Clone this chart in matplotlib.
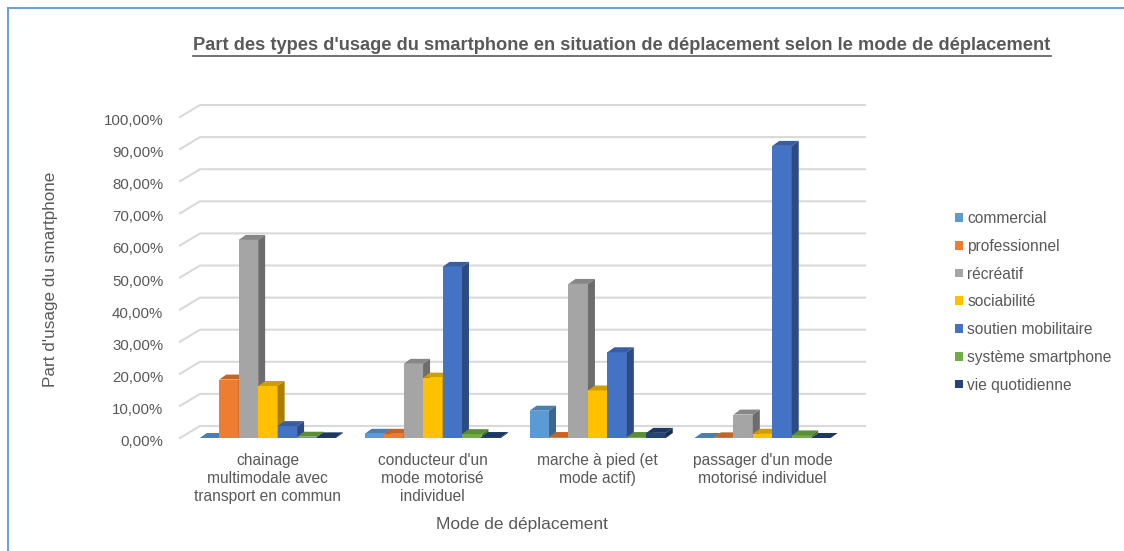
import matplotlib
matplotlib.use('Agg')
import matplotlib.pyplot as plt
from matplotlib.patches import Polygon, Patch
from matplotlib.lines import Line2D
from matplotlib.transforms import IdentityTransform, ScaledTranslation
from matplotlib import font_manager
import numpy as np

# ---------------- data ----------------
categories = [
    "chainage\nmultimodale avec\ntransport en commun",
    "conducteur d'un\nmode motorisé\nindividuel",
    "marche à pied (et\nmode actif)",
    "passager d'un mode\nmotorisé individuel",
]
series_names = ["commercial", "professionnel", "récréatif", "sociabilité",
                "soutien mobilitaire", "système smartphone", "vie quotidienne"]
commercial = [0.0, 1.3, 8.5, 0.0]
professionnel = [18.2, 1.3, 0.3, 0.2]
recreatif = [61.7, 23.1, 48.0, 7.3]
sociabilite = [16.2, 18.8, 14.8, 1.3]
soutien_mobilitaire = [3.7, 53.3, 26.7, 91.0]
systeme_smartphone = [0.4, 1.2, 0.3, 0.8]
vie_quotidienne = [0.2, 0.3, 1.6, 0.0]
series_values = [commercial, professionnel, recreatif, sociabilite,
                 soutien_mobilitaire, systeme_smartphone, vie_quotidienne]
y_ticks = [0, 10, 20, 30, 40, 50, 60, 70, 80, 90, 100]
y_tick_labels = ["0,00%", "10,00%", "20,00%", "30,00%", "40,00%", "50,00%",
                 "60,00%", "70,00%", "80,00%", "90,00%", "100,00%"]
title = "Part des types d'usage du smartphone en situation de déplacement selon le mode de déplacement"
y_label = "Part d'usage du smartphone"
x_label = "Mode de déplacement"

# ---------------- style ----------------
colors = ["#5B9BD5", "#ED7D31", "#A5A5A5", "#FFC000", "#4472C4", "#70AD47", "#264478"]
text_color = "#595959"
grid_color = "#D9D9D9"

def shade(hexc, f):
    r, g, b = matplotlib.colors.to_rgb(hexc)
    return (r * f, g * f, b * f)

names = {f.name for f in font_manager.fontManager.ttflist}
plt.rcParams['font.family'] = ['Liberation Sans', 'DejaVu Sans']
title_family = ['Liberation Sans Narrow', 'Liberation Sans'] if 'Liberation Sans Narrow' in names else ['Liberation Sans']

W, H = 1124, 551
fig = plt.figure(figsize=(W / 100, H / 100), dpi=100)
fig.patch.set_facecolor('white')

y0_px, y100_px = 438, 117
ax_left, ax_right = 180, 845
ax = fig.add_axes([ax_left / W, (H - y0_px) / H, (ax_right - ax_left) / W, (y0_px - y100_px) / H])
ax.set_xlim(-0.533, 3.5)
ax.set_ylim(0, 100)
for s in ax.spines.values():
    s.set_visible(False)
ax.patch.set_visible(False)

x = np.arange(len(categories))
bw = 0.118
n = len(series_names)

# back wall gridlines
wall_dx, wall_dy = 20, 12
for v in y_ticks:
    pf = ax.transData.transform((ax.get_xlim()[0], v))
    pr = ax.transData.transform((ax.get_xlim()[1], v))
    xs = [pf[0], pf[0] + wall_dx, pr[0] + wall_dx]
    ys = [pf[1], pf[1] + wall_dy, pr[1] + wall_dy]
    ln = Line2D(xs, ys, transform=IdentityTransform(), color=grid_color, lw=1.5,
                zorder=0.5, clip_on=False)
    ax.add_artist(ln)

# bars with pseudo-3D faces
ddx, ddy = 7, 5
for j, (vals, c) in enumerate(zip(series_values, colors)):
    bars = ax.bar(x + (j - (n - 1) / 2) * bw, vals, width=bw, color=c,
                  edgecolor='none', zorder=3 + j * 0.1, clip_on=False)
    for rect in bars:
        bx0 = rect.get_x()
        bx1 = bx0 + rect.get_width()
        h = rect.get_height()
        p0 = ax.transData.transform((bx0, h))
        p1 = ax.transData.transform((bx1, h))
        pb = ax.transData.transform((bx1, 0))
        top = Polygon([p0, p1, (p1[0] + ddx, p1[1] + ddy), (p0[0] + ddx, p0[1] + ddy)],
                      closed=True, transform=IdentityTransform(), facecolor=shade(c, 0.82),
                      edgecolor='none', zorder=3 + j * 0.1 + 0.05, clip_on=False)
        side = Polygon([p1, pb, (pb[0] + ddx, pb[1] + ddy), (p1[0] + ddx, p1[1] + ddy)],
                       closed=True, transform=IdentityTransform(), facecolor=shade(c, 0.66),
                       edgecolor='none', zorder=3 + j * 0.1 + 0.05, clip_on=False)
        ax.add_artist(top)
        ax.add_artist(side)

ax.set_yticks(y_ticks)
ax.set_yticklabels(y_tick_labels)
ax.set_xticks(x)
ax.set_xticklabels(categories, linespacing=1.25)
ax.tick_params(axis='y', length=0, pad=12, labelsize=10.8, labelcolor=text_color)
ax.tick_params(axis='x', length=0, pad=11, labelsize=11.2, labelcolor=text_color)
shift = ScaledTranslation(0, -2.5 / 100, fig.dpi_scale_trans)
for lbl in ax.get_yticklabels():
    lbl.set_transform(lbl.get_transform() + shift)

fig.text(51 / W, 1 - 279 / H, y_label, rotation=90, ha='center', va='center',
         fontsize=12.3, color=text_color)
fig.text(522 / W, 1 - 524 / H, x_label, ha='center', va='center',
         fontsize=12.5, color=text_color)

# title with underline
t = fig.text(622 / W, 1 - 46 / H, title, ha='center', va='center', fontweight='bold',
             fontsize=12, color=text_color, family=title_family)
fig.canvas.draw()
r = fig.canvas.get_renderer()
bb = t.get_window_extent(r)
t.set_fontsize(12 * 850 / bb.width)
fig.canvas.draw()
bb = t.get_window_extent(r)
fig.add_artist(Line2D([bb.x0, bb.x1], [bb.y0 - 1, bb.y0 - 1], transform=IdentityTransform(),
                      color=text_color, lw=1.2))

# legend
handles = [Patch(facecolor=c, edgecolor='none') for c in colors]
fig.legend(handles, series_names, loc='upper left', bbox_to_anchor=(941 / W, 1 - 197 / H),
           frameon=False, fontsize=11.2, handlelength=0.5, handleheight=0.5,
           handletextpad=0.3, labelspacing=0.82, labelcolor=text_color)

# chart border
border_c = "#6FA0DA"
fig.add_artist(Line2D([7.5 / W, 7.5 / W], [0, 1 - 8 / H], transform=fig.transFigure, color=border_c, lw=1.5))
fig.add_artist(Line2D([7.5 / W, 1], [1 - 8 / H, 1 - 8 / H], transform=fig.transFigure, color=border_c, lw=1.5))

fig.savefig("out.png", dpi=100)
